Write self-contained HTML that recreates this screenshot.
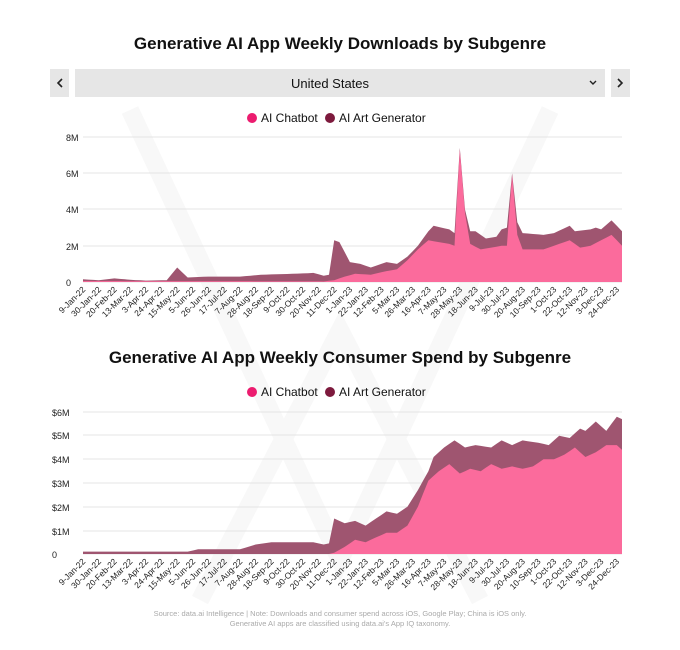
<!DOCTYPE html>
<html><head><meta charset="utf-8"><style>
body{margin:0;background:#fff;width:680px;height:645px;overflow:hidden;font-family:"Liberation Sans",sans-serif}
</style></head><body>
<svg id="s" width="680" height="645" xmlns="http://www.w3.org/2000/svg" font-family="Liberation Sans, sans-serif">
<g stroke="#f8f8f8" stroke-width="18" fill="none">
<path d="M130 110 L340 560 L550 110"/><path d="M200 600 L340 330 L480 600"/>
</g>
<text x="340" y="49" text-anchor="middle" font-size="17" font-weight="bold" fill="#111">Generative AI App Weekly Downloads by Subgenre</text>
<rect x="50" y="69" width="19" height="28" fill="#e6e6e6"/>
<rect x="75" y="69" width="530" height="28" fill="#e6e6e6"/>
<rect x="611" y="69" width="19" height="28" fill="#e6e6e6"/>
<path d="M62 79 L58 83 L62 87" stroke="#222" stroke-width="1.6" fill="none"/>
<path d="M618 79 L622 83 L618 87" stroke="#222" stroke-width="1.6" fill="none"/>
<path d="M590 81 L593 84 L596 81" stroke="#222" stroke-width="1.4" fill="none"/>
<text x="330" y="88" text-anchor="middle" font-size="13" fill="#111">United States</text>
<circle cx="252" cy="118" r="5" fill="#ec1c6f"/><text x="261" y="122" font-size="12" fill="#111">AI Chatbot</text>
<circle cx="330" cy="118" r="5" fill="#7d1a3d"/><text x="339" y="122" font-size="12" fill="#111">AI Art Generator</text>
<text x="340" y="363" text-anchor="middle" font-size="17" font-weight="bold" fill="#111">Generative AI App Weekly Consumer Spend by Subgenre</text>
<circle cx="252" cy="392" r="5" fill="#ec1c6f"/><text x="261" y="396" font-size="12" fill="#111">AI Chatbot</text>
<circle cx="330" cy="392" r="5" fill="#7d1a3d"/><text x="339" y="396" font-size="12" fill="#111">AI Art Generator</text>
<text x="340" y="616" text-anchor="middle" font-size="7.5" fill="#aaa">Source: data.ai Intelligence | Note: Downloads and consumer spend across iOS, Google Play; China is iOS only.</text>
<text x="340" y="626" text-anchor="middle" font-size="7.5" fill="#aaa">Generative AI apps are classified using data.ai's App IQ taxonomy.</text>
<g id="g"></g>
</svg>
<script>
const NS="http://www.w3.org/2000/svg",g=document.getElementById('g');
function el(t,a,txt){const e=document.createElementNS(NS,t);for(const k in a)e.setAttribute(k,a[k]);if(txt)e.textContent=txt;g.appendChild(e);return e}
function interp(k){const a=[];for(let i=0;i<104;i++){let j=0;while(j<k.length-2&&k[j+1][0]<=i)j++;const[x0,y0]=k[j],[x1,y1]=k[j+1];a.push(i<=x0?y0:i>=x1?y1:y0+(y1-y0)*(i-x0)/(x1-x0))}return a}
const X0=83,X1=622,xs=i=>X0+i*(X1-X0)/103;
const labs=[];const d0=new Date(2022,0,9,12);const M=["Jan","Feb","Mar","Apr","May","Jun","Jul","Aug","Sep","Oct","Nov","Dec"];
for(let i=0;i<104;i+=3){const d=new Date(d0.getTime()+i*7*864e5);labs.push([i,d.getDate()+"-"+M[d.getMonth()]+"-"+String(d.getFullYear()).slice(2)])}
function chart(tot,bot,base,ticks,lx,labY){
 ticks.forEach(([v,y,t])=>{el('line',{x1:X0,x2:X1,y1:y,y2:y,stroke:'#e4e4e4','stroke-width':1});el('text',{x:lx,y:y+4,'font-size':9,fill:'#222'},t)});
 const sc=ticks[0][1],sv=ticks[0][0],ys=v=>base-(base-sc)*v/sv;
 const area=a=>{let p="M"+X0+" "+base;a.forEach((v,i)=>p+=" L"+xs(i).toFixed(1)+" "+ys(v).toFixed(1));return p+" L"+X1+" "+base+"Z"};
 el('path',{d:area(tot),fill:'#9f5570'});el('path',{d:area(bot),fill:'#fb6b9c'});
 labs.forEach(([i,t])=>el('text',{x:0,y:0,'font-size':8.5,fill:'#222','text-anchor':'end',transform:`translate(${xs(i)+3},${labY}) rotate(-45)`},t));
}
const dT=interp([[0,.15],[3,.1],[6,.2],[9,.12],[12,.08],[16,.1],[18,.8],[20,.25],[24,.3],[30,.3],[34,.4],[40,.45],[44,.5],[46,.35],[47,.4],[48,2.3],[49,2.2],[51,1.1],[53,1],[55,.8],[58,1.1],[60,1],[62,1.4],[64,2],[66,2.8],[67,3.1],[70,2.9],[71,2.7],[72,7.4],[73,4],[74,2.8],[75,2.8],[77,2.4],[79,2.5],[80,2.9],[81,3],[82,6],[83,3.3],[84,2.7],[88,2.6],[90,2.7],[93,3.1],[94,2.8],[97,2.9],[98,3],[99,2.9],[101,3.4],[103,2.8]]);
const dB=interp([[0,.05],[46,.03],[48,.1],[50,.3],[52,.45],[55,.4],[58,.6],[60,.7],[62,1.2],[64,1.8],[66,2.3],[70,2.1],[71,2],[72,7.3],[73,3.8],[74,2.1],[76,1.8],[78,1.9],[80,2],[81,2],[82,5.9],[83,2.6],[84,1.8],[88,1.8],[90,2],[93,2.3],[95,1.9],[97,2],[99,2.3],[101,2.6],[103,2]]);
chart(dT,dB,282,[[8,137,"8M"],[6,173,"6M"],[4,209,"4M"],[2,246,"2M"],[0,282,"0"]],66,290);
const sT=interp([[0,.1],[10,.1],[20,.1],[22,.2],[30,.2],[33,.4],[36,.5],[44,.5],[46,.4],[47,.45],[48,1.5],[50,1.3],[52,1.4],[54,1.2],[56,1.5],[58,1.8],[60,1.7],[62,2],[64,2.7],[66,3.5],[67,4.1],[69,4.5],[71,4.8],[73,4.5],[75,4.6],[78,4.5],[80,4.8],[82,4.6],[84,4.8],[87,4.7],[89,4.6],[91,5],[93,4.9],[95,5.3],[96,5.2],[98,5.6],[100,5.2],[102,5.8],[103,5.7]]);
const sB=interp([[0,0],[47,0],[48,.05],[50,.3],[52,.6],[54,.5],[56,.7],[58,.9],[60,.9],[62,1.2],[64,2],[66,3.1],[68,3.5],[70,3.8],[72,3.4],[74,3.6],[76,3.5],[78,3.8],[80,3.6],[82,3.7],[84,3.6],[86,3.7],[88,4],[90,4],[92,4.2],[94,4.5],[96,4.1],[98,4.3],[100,4.6],[102,4.6],[103,4.4]]);
chart(sT,sB,554,[[6,412,"$6M"],[5,435,"$5M"],[4,459,"$4M"],[3,483,"$3M"],[2,507,"$2M"],[1,531,"$1M"],[0,554,"0"]],52,562);
</script>
</body></html>
